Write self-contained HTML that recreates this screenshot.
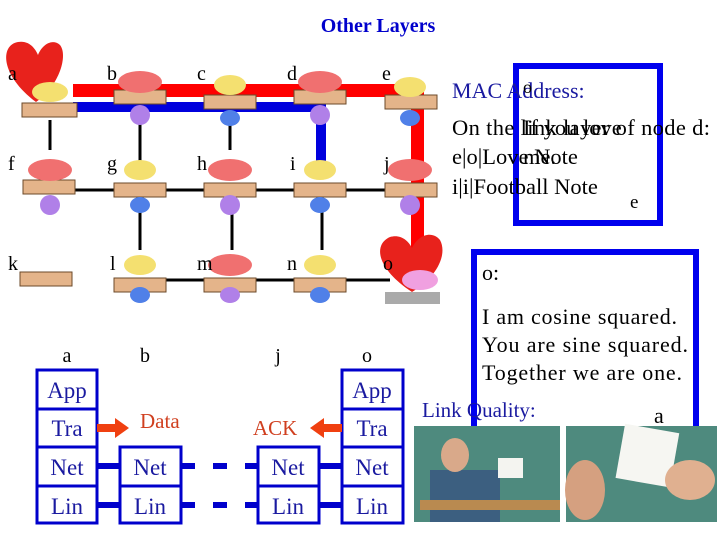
<!DOCTYPE html>
<html><head><style>
body{margin:0;background:#fff;width:720px;height:540px;overflow:hidden}
svg{display:block;font-family:"Liberation Serif",serif}
</style></head><body>
<svg width="720" height="540" viewBox="0 0 720 540" xmlns="http://www.w3.org/2000/svg">
<text x="378" y="32" text-anchor="middle" font-size="20" font-weight="bold" fill="#0000cc">Other Layers</text>
<g stroke="#000" stroke-width="3">
<line x1="50" y1="120" x2="50" y2="150"/>
<line x1="140" y1="120" x2="140" y2="165"/>
<line x1="230" y1="120" x2="230" y2="150"/>
<line x1="75" y1="190" x2="390" y2="190"/>
<line x1="140" y1="210" x2="140" y2="250"/>
<line x1="232" y1="210" x2="232" y2="250"/>
<line x1="322" y1="210" x2="322" y2="250"/>
<line x1="165" y1="280" x2="390" y2="280"/>
</g>
<rect x="73" y="84" width="350" height="13" fill="#f00"/>
<rect x="411" y="84" width="13" height="165" fill="#f00"/>
<rect x="73" y="102" width="252" height="10" fill="#00d"/>
<rect x="316" y="102" width="10" height="66" fill="#00d"/>
<path d="M36 102 C0 75 0 45 18 42 C30 40 36 50 38 55 C42 45 52 38 60 45 C68 55 60 85 36 102 Z" fill="#e8221c"/>
<path d="M412 292 C378 270 372 245 390 237 C400 234 408 240 412 248 C418 235 432 230 440 240 C448 255 436 278 412 292 Z" fill="#e8221c"/>
<g fill="#e4b48a" stroke="#6b4a2a" stroke-width="1">
<rect x="22" y="103" width="55" height="14"/><rect x="114" y="90" width="52" height="14"/><rect x="204" y="95" width="52" height="14"/><rect x="294" y="90" width="52" height="14"/><rect x="385" y="95" width="52" height="14"/>
<rect x="23" y="180" width="52" height="14"/><rect x="114" y="183" width="52" height="14"/><rect x="204" y="183" width="52" height="14"/><rect x="294" y="183" width="52" height="14"/><rect x="385" y="183" width="52" height="14"/>
<rect x="20" y="272" width="52" height="14"/><rect x="114" y="278" width="52" height="14"/><rect x="204" y="278" width="52" height="14"/><rect x="294" y="278" width="52" height="14"/>
</g>
<g fill="#f07070">
<ellipse cx="140" cy="82" rx="22" ry="11"/><ellipse cx="320" cy="82" rx="22" ry="11"/><ellipse cx="50" cy="170" rx="22" ry="11"/><ellipse cx="230" cy="170" rx="22" ry="11"/><ellipse cx="410" cy="170" rx="22" ry="11"/><ellipse cx="230" cy="265" rx="22" ry="11"/>
</g>
<g fill="#f4e070">
<ellipse cx="50" cy="92" rx="18" ry="10"/><ellipse cx="230" cy="85" rx="16" ry="10"/><ellipse cx="410" cy="87" rx="16" ry="10"/><ellipse cx="140" cy="170" rx="16" ry="10"/><ellipse cx="320" cy="170" rx="16" ry="10"/><ellipse cx="140" cy="265" rx="16" ry="10"/><ellipse cx="320" cy="265" rx="16" ry="10"/>
</g>
<g fill="#b080e8"><ellipse cx="140" cy="115" rx="10" ry="10"/><ellipse cx="320" cy="115" rx="10" ry="10"/><ellipse cx="50" cy="205" rx="10" ry="10"/><ellipse cx="230" cy="205" rx="10" ry="10"/><ellipse cx="410" cy="205" rx="10" ry="10"/><ellipse cx="230" cy="295" rx="10" ry="8"/></g>
<g fill="#5080e8"><ellipse cx="230" cy="118" rx="10" ry="8"/><ellipse cx="410" cy="118" rx="10" ry="8"/><ellipse cx="140" cy="205" rx="10" ry="8"/><ellipse cx="320" cy="205" rx="10" ry="8"/><ellipse cx="140" cy="295" rx="10" ry="8"/><ellipse cx="320" cy="295" rx="10" ry="8"/></g>
<ellipse cx="420" cy="280" rx="18" ry="10" fill="#f0a0e0"/>
<rect x="385" y="292" width="55" height="12" fill="#aaa"/>
<g font-size="20" fill="#000">
<text x="8" y="80">a</text><text x="107" y="80">b</text><text x="197" y="80">c</text><text x="287" y="80">d</text><text x="382" y="80">e</text>
<text x="8" y="170">f</text><text x="107" y="170">g</text><text x="197" y="170">h</text><text x="290" y="170">i</text><text x="384" y="170">j</text>
<text x="8" y="270">k</text><text x="110" y="270">l</text><text x="197" y="270">m</text><text x="287" y="270">n</text><text x="383" y="270">o</text>
</g>
<rect x="516" y="66" width="144" height="157" fill="none" stroke="#00e" stroke-width="6"/>
<text x="452" y="98" font-size="22" fill="#1a1aa0">MAC Address:</text>
<text x="523" y="93" font-size="18">o</text>
<g font-size="22.5" fill="#000">
<text x="452" y="135" textLength="258">On the link layer of node d:</text>
<text x="523" y="135">If you love</text>
<text x="452" y="164">e|o|Love Note</text>
<text x="523" y="164">me.</text>
<text x="452" y="194">i|i|Football Note</text>
<text x="630" y="208" font-size="19">e</text>
</g>
<path d="M474 430 V252 H696 V470" fill="none" stroke="#00e" stroke-width="6"/>
<g font-size="22" fill="#000">
<text x="482" y="280">o:</text>
<text x="482" y="324" textLength="195">I am cosine squared.</text>
<text x="482" y="352" textLength="206">You are sine squared.</text>
<text x="482" y="380" textLength="200">Together we are one.</text>
<text x="654" y="423">a</text>
</g>
<text x="422" y="417" font-size="21" fill="#1a1aa0">Link Quality:</text>
<rect x="414" y="426" width="146" height="96" fill="#4e8a7e"/>
<rect x="430" y="470" width="70" height="52" fill="#3c5f80"/>
<ellipse cx="455" cy="455" rx="14" ry="17" fill="#d9a98a"/>
<rect x="498" y="458" width="25" height="20" fill="#f4f4f0"/>
<rect x="420" y="500" width="140" height="10" fill="#b98a50"/>
<rect x="566" y="426" width="151" height="96" fill="#4e8a7e"/>
<rect x="620" y="428" width="55" height="55" fill="#f6f6f2" transform="rotate(10 647 455)"/>
<ellipse cx="585" cy="490" rx="20" ry="30" fill="#d5a080"/>
<ellipse cx="690" cy="480" rx="25" ry="20" fill="#e0b090"/>
<g fill="none" stroke="#00c" stroke-width="3">
<rect x="37" y="370" width="60" height="153"/>
<line x1="37" y1="409" x2="97" y2="409"/><line x1="37" y1="447" x2="97" y2="447"/><line x1="37" y1="486" x2="97" y2="486"/>
<rect x="342" y="370" width="61" height="153"/>
<line x1="342" y1="409" x2="403" y2="409"/><line x1="342" y1="447" x2="403" y2="447"/><line x1="342" y1="486" x2="403" y2="486"/>
<rect x="120" y="447" width="61" height="76"/><line x1="120" y1="486" x2="181" y2="486"/>
<rect x="258" y="447" width="61" height="76"/><line x1="258" y1="486" x2="319" y2="486"/>
</g>
<g stroke="#00c" stroke-width="6">
<line x1="97" y1="466" x2="120" y2="466"/><line x1="97" y1="505" x2="120" y2="505"/>
<line x1="319" y1="466" x2="342" y2="466"/><line x1="319" y1="505" x2="342" y2="505"/>
<line x1="181" y1="466" x2="258" y2="466" stroke-dasharray="14 18"/>
<line x1="181" y1="505" x2="258" y2="505" stroke-dasharray="14 18"/>
</g>
<g font-size="23" fill="#1a1aa0" text-anchor="middle">
<text x="67" y="398">App</text><text x="67" y="436">Tra</text><text x="67" y="475">Net</text><text x="67" y="514">Lin</text>
<text x="372" y="398">App</text><text x="372" y="436">Tra</text><text x="372" y="475">Net</text><text x="372" y="514">Lin</text>
<text x="150" y="475">Net</text><text x="150" y="514">Lin</text>
<text x="288" y="475">Net</text><text x="288" y="514">Lin</text>
</g>
<g font-size="20" fill="#000" text-anchor="middle">
<text x="67" y="362">a</text><text x="145" y="362">b</text><text x="278" y="362">j</text><text x="367" y="362">o</text>
</g>
<path d="M97 424 h18 v-6 l14 10 l-14 10 v-6 h-18 z" fill="#f04010"/>
<path d="M342 424 h-18 v-6 l-14 10 l14 10 v-6 h18 z" fill="#f04010"/>
<text x="140" y="428" font-size="21" fill="#d04020">Data</text>
<text x="253" y="435" font-size="21" fill="#d04020">ACK</text>
</svg>
</body></html>
